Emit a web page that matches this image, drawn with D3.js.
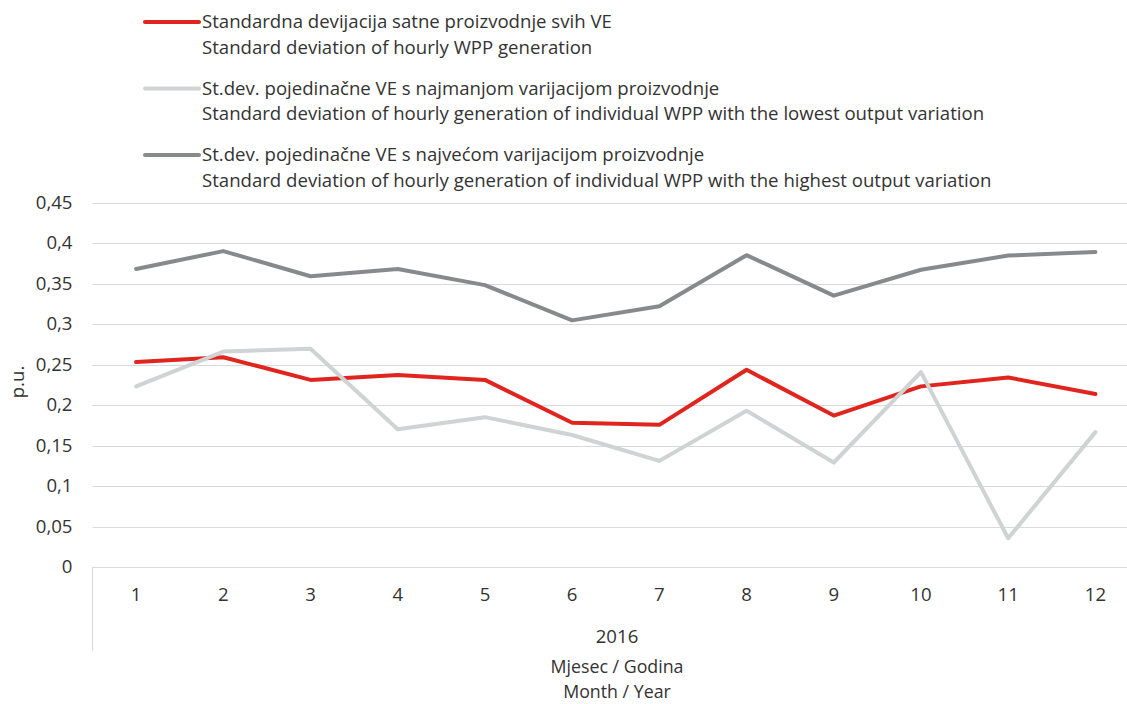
<!DOCTYPE html>
<html>
<head>
<meta charset="utf-8">
<script src="https://cdn.jsdelivr.net/npm/d3@7"></script>
<style>
  html, body { margin: 0; padding: 0; background: #fff; }
  svg { display: block; }
  text { font-family: "Open Sans", "Noto Sans", sans-serif; fill: #333; }
</style>
</head>
<body>
<svg id="chart" width="1127" height="704"></svg>
<script>
const months = ["1","2","3","4","5","6","7","8","9","10","11","12"];
const yearLabel = "2016";
const yTicks = [0, 0.05, 0.1, 0.15, 0.2, 0.25, 0.3, 0.35, 0.4, 0.45];

const allWpp = [0.253, 0.259, 0.231, 0.237, 0.231, 0.178, 0.1755, 0.2435, 0.187, 0.223, 0.234, 0.2135];
const lowestWpp = [0.223, 0.266, 0.2695, 0.170, 0.185, 0.163, 0.131, 0.193, 0.129, 0.2405, 0.0355, 0.1665];
const highestWpp = [0.368, 0.390, 0.359, 0.368, 0.348, 0.3045, 0.322, 0.385, 0.335, 0.367, 0.3845, 0.389];

const seriesNames = [
  ["Standardna devijacija satne proizvodnje svih VE", "Standard deviation of hourly WPP generation"],
  ["St.dev. pojedinačne VE s najmanjom varijacijom proizvodnje", "Standard deviation of hourly generation of individual WPP with the lowest output variation"],
  ["St.dev. pojedinačne VE s najvećom varijacijom proizvodnje", "Standard deviation of hourly generation of individual WPP with the highest output variation"]
];
const seriesColors = ["#e0251f", "#d0d2d3", "#87898c"];
const series = [allWpp, lowestWpp, highestWpp];

const FS = 18.6;
const svg = d3.select("#chart");
const mLeft = 92.5, mRight = 1139, mTop = 202.5, mBottom = 567;

const x = d3.scaleBand().domain(months).range([mLeft, mRight]).padding(0);
const y = d3.scaleLinear().domain([0, 0.45]).range([mBottom, mTop]);
const fmt = v => String(+v.toFixed(2)).replace(".", ",");

// gridlines
svg.append("g").selectAll("line").data(yTicks).join("line")
  .attr("x1", mLeft).attr("x2", 1127)
  .attr("y1", d => Math.round(y(d)) + 0.5).attr("y2", d => Math.round(y(d)) + 0.5)
  .attr("stroke", "#d9d9d9").attr("stroke-width", 1);

// y axis labels
const yAxis = d3.axisLeft(y).tickValues(yTicks).tickFormat(fmt).tickSize(0).tickPadding(20);
const yg = svg.append("g").attr("transform", `translate(${mLeft},0)`).call(yAxis);
yg.select(".domain").remove();
yg.selectAll("text").attr("font-size", FS).attr("fill", "#333")
  .style("font-family", '"Open Sans", sans-serif');

// y title
svg.append("text").attr("transform", `translate(24,382) rotate(-90)`)
  .attr("text-anchor", "middle").attr("font-size", FS).text("p.u.");

// x axis
const xAxis = d3.axisBottom(x).tickSize(0).tickPadding(21);
const xg = svg.append("g").attr("transform", `translate(0,${mBottom})`).call(xAxis);
xg.select(".domain").remove();
xg.selectAll("text").attr("font-size", FS).attr("fill", "#333")
  .style("font-family", '"Open Sans", sans-serif');
svg.append("line").attr("x1", mLeft).attr("x2", 1127).attr("y1", mBottom + 0.5).attr("y2", mBottom + 0.5)
  .attr("stroke", "#d9d9d9");
svg.append("line").attr("x1", mLeft).attr("x2", mLeft).attr("y1", mBottom).attr("y2", 651)
  .attr("stroke", "#d9d9d9");

// year label and axis title
svg.append("text").attr("x", 617).attr("y", 643).attr("text-anchor", "middle").attr("font-size", FS).text(yearLabel);
svg.append("text").attr("x", 617).attr("y", 673).attr("text-anchor", "middle").attr("font-size", 17.8).text("Mjesec / Godina");
svg.append("text").attr("x", 617).attr("y", 697.5).attr("text-anchor", "middle").attr("font-size", 17.8).text("Month / Year");

// lines
const line = d3.line().x((d, i) => x(months[i]) + x.bandwidth() / 2).y(d => y(d));
svg.append("g").selectAll("path").data(series).join("path")
  .attr("d", d => line(d))
  .attr("fill", "none")
  .attr("stroke", (d, i) => seriesColors[i])
  .attr("stroke-width", 4)
  .attr("stroke-linejoin", "round")
  .attr("stroke-linecap", "round");

// legend
const legendY = [22, 88.5, 155];
const lg = svg.append("g").selectAll("g").data(seriesNames).join("g")
  .attr("transform", (d, i) => `translate(0,${legendY[i]})`);
lg.append("line").attr("x1", 145).attr("x2", 199).attr("y1", 0).attr("y2", 0)
  .attr("stroke", (d, i) => seriesColors[i]).attr("stroke-width", 4).attr("stroke-linecap", "round");
lg.append("text").attr("x", 202).attr("y", 6.3).attr("font-size", FS).text(d => d[0]);
lg.append("text").attr("x", 202).attr("y", 31.5).attr("font-size", FS).text(d => d[1]);
</script>
</body>
</html>
